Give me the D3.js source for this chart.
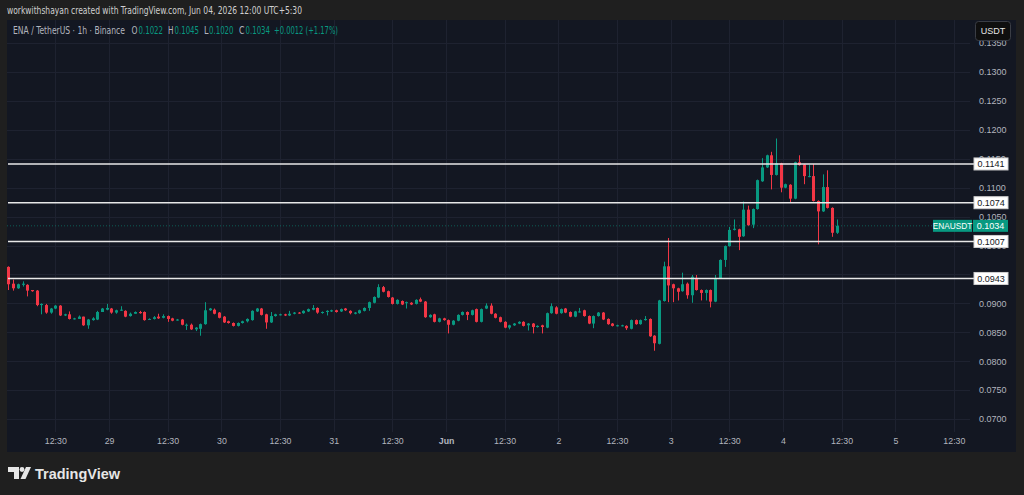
<!DOCTYPE html>
<html>
<head>
<meta charset="utf-8">
<script src="https://cdn.jsdelivr.net/npm/d3@7"></script>
<style>
  html, body { margin: 0; padding: 0; background: #1f1f1f; }
  svg { display: block; font-family: "Liberation Sans", Arial, sans-serif; }
</style>
</head>
<body>
<svg id="chart" width="1024" height="495"></svg>
<script>
// ENA / TetherUS 1h candles, first one at May 28 02:30 (UTC+5:30)
const open = [
  0.0963,0.0934,0.0926,0.0932,0.0932,0.0923,0.0922,0.0897,0.0897,0.0884,
  0.0891,0.0896,0.0879,0.0881,0.0873,0.0873,0.0877,0.0862,0.0871,0.0872,
  0.0885,0.0889,0.0891,0.0884,0.0888,0.0887,0.0878,0.0882,0.0885,0.0885,
  0.0872,0.0873,0.0877,0.0875,0.0878,0.0874,0.0871,0.0872,0.0862,0.0863,
  0.0855,0.0856,0.0864,0.0888,0.0889,0.0884,0.0877,0.0869,0.0866,0.0861,
  0.0866,0.0869,0.0871,0.0886,0.0891,0.0881,0.0867,0.0878,0.0880,0.0881,
  0.0879,0.0882,0.0884,0.0883,0.0886,0.0889,0.0892,0.0884,0.0885,0.0886,
  0.0888,0.0886,0.0891,0.0887,0.0882,0.0883,0.0887,0.0892,0.0901,0.0910,
  0.0928,0.0921,0.0910,0.0899,0.0904,0.0901,0.0901,0.0899,0.0907,0.0903,
  0.0876,0.0881,0.0868,0.0874,0.0871,0.0863,0.0870,0.0880,0.0885,0.0880,
  0.0890,0.0868,0.0891,0.0896,0.0882,0.0876,0.0868,0.0858,0.0862,0.0865,
  0.0868,0.0862,0.0865,0.0859,0.0862,0.0858,0.0883,0.0893,0.0883,0.0891,
  0.0885,0.0877,0.0885,0.0888,0.0878,0.0865,0.0878,0.0884,0.0873,0.0865,
  0.0861,0.0861,0.0861,0.0856,0.0871,0.0864,0.0871,0.0873,0.0844,0.0830,
  0.0904,0.0964,0.0933,0.0926,0.0921,0.0934,0.0914,0.0944,0.0923,0.0918,
  0.0923,0.0903,0.0943,0.0975,0.0999,0.1027,0.1028,0.1016,0.1062,0.1036,
  0.1063,0.1111,0.1135,0.1156,0.1122,0.1142,0.1100,0.1105,0.1081,0.1144,
  0.1140,0.1119,0.1120,0.1077,0.1059,0.1101,0.1065,0.1022
]
const high = [
  0.0964,0.0941,0.0934,0.0938,0.0933,0.0923,0.0923,0.0900,0.0899,0.0892,
  0.0897,0.0897,0.0882,0.0886,0.0875,0.0879,0.0877,0.0873,0.0876,0.0887,
  0.0892,0.0899,0.0892,0.0889,0.0895,0.0888,0.0884,0.0886,0.0887,0.0886,
  0.0874,0.0878,0.0882,0.0881,0.0879,0.0875,0.0873,0.0873,0.0865,0.0865,
  0.0859,0.0865,0.0902,0.0892,0.0891,0.0885,0.0878,0.0870,0.0867,0.0867,
  0.0870,0.0874,0.0888,0.0892,0.0892,0.0882,0.0885,0.0882,0.0882,0.0882,
  0.0887,0.0885,0.0885,0.0888,0.0891,0.0897,0.0893,0.0886,0.0888,0.0889,
  0.0889,0.0891,0.0892,0.0888,0.0885,0.0889,0.0893,0.0903,0.0912,0.0933,
  0.0930,0.0922,0.0911,0.0907,0.0905,0.0903,0.0902,0.0907,0.0910,0.0904,
  0.0881,0.0882,0.0875,0.0875,0.0872,0.0871,0.0881,0.0886,0.0886,0.0889,
  0.0891,0.0891,0.0900,0.0900,0.0883,0.0877,0.0869,0.0863,0.0866,0.0869,
  0.0869,0.0866,0.0866,0.0862,0.0863,0.0884,0.0900,0.0895,0.0891,0.0892,
  0.0886,0.0887,0.0892,0.0889,0.0879,0.0879,0.0885,0.0885,0.0874,0.0866,
  0.0863,0.0863,0.0862,0.0872,0.0872,0.0872,0.0878,0.0874,0.0845,0.0906,
  0.0972,0.1013,0.0934,0.0927,0.0953,0.0936,0.0949,0.0949,0.0924,0.0924,
  0.0924,0.0949,0.0976,0.1000,0.1032,0.1045,0.1029,0.1076,0.1069,0.1064,
  0.1114,0.1151,0.1157,0.1162,0.1185,0.1143,0.1107,0.1106,0.1145,0.1156,
  0.1141,0.1139,0.1141,0.1078,0.1123,0.1130,0.1066,0.1045
]
const low = [
  0.0923,0.0922,0.0925,0.0929,0.0912,0.0920,0.0895,0.0881,0.0882,0.0882,
  0.0890,0.0878,0.0878,0.0872,0.0872,0.0873,0.0861,0.0856,0.0870,0.0871,
  0.0885,0.0888,0.0882,0.0882,0.0887,0.0876,0.0877,0.0882,0.0882,0.0870,
  0.0872,0.0872,0.0873,0.0874,0.0868,0.0869,0.0870,0.0862,0.0854,0.0854,
  0.0852,0.0844,0.0863,0.0887,0.0881,0.0874,0.0866,0.0865,0.0860,0.0860,
  0.0865,0.0867,0.0870,0.0885,0.0879,0.0856,0.0866,0.0877,0.0879,0.0878,
  0.0878,0.0881,0.0882,0.0882,0.0885,0.0888,0.0882,0.0882,0.0879,0.0885,
  0.0884,0.0885,0.0887,0.0881,0.0881,0.0882,0.0886,0.0887,0.0900,0.0909,
  0.0919,0.0910,0.0898,0.0898,0.0897,0.0891,0.0897,0.0898,0.0902,0.0875,
  0.0875,0.0867,0.0867,0.0870,0.0848,0.0862,0.0869,0.0879,0.0871,0.0879,
  0.0867,0.0867,0.0890,0.0881,0.0874,0.0867,0.0857,0.0855,0.0861,0.0864,
  0.0860,0.0853,0.0848,0.0858,0.0848,0.0857,0.0882,0.0881,0.0882,0.0883,
  0.0876,0.0876,0.0884,0.0877,0.0864,0.0857,0.0877,0.0871,0.0863,0.0860,
  0.0860,0.0860,0.0854,0.0855,0.0863,0.0863,0.0870,0.0842,0.0818,0.0829,
  0.0903,0.0902,0.0902,0.0905,0.0920,0.0908,0.0901,0.0922,0.0905,0.0905,
  0.0893,0.0902,0.0942,0.0963,0.0998,0.1026,0.0992,0.1015,0.1034,0.1030,
  0.1062,0.1110,0.1134,0.1097,0.1121,0.1092,0.1099,0.1074,0.1080,0.1138,
  0.1106,0.1118,0.1076,0.1002,0.1058,0.1064,0.1015,0.1020
]
const close = [
  0.0933,0.0926,0.0933,0.0934,0.0922,0.0921,0.0897,0.0899,0.0884,0.0891,
  0.0896,0.0879,0.0881,0.0873,0.0874,0.0877,0.0862,0.0872,0.0874,0.0885,
  0.0891,0.0892,0.0884,0.0888,0.0889,0.0877,0.0882,0.0885,0.0883,0.0871,
  0.0873,0.0876,0.0874,0.0878,0.0873,0.0870,0.0872,0.0863,0.0863,0.0855,
  0.0858,0.0864,0.0888,0.0891,0.0882,0.0875,0.0867,0.0866,0.0861,0.0866,
  0.0869,0.0873,0.0887,0.0891,0.0880,0.0867,0.0878,0.0881,0.0881,0.0879,
  0.0882,0.0884,0.0883,0.0887,0.0890,0.0892,0.0884,0.0885,0.0887,0.0888,
  0.0885,0.0890,0.0888,0.0883,0.0884,0.0888,0.0892,0.0902,0.0911,0.0928,
  0.0920,0.0911,0.0899,0.0906,0.0898,0.0902,0.0898,0.0906,0.0903,0.0876,
  0.0880,0.0868,0.0874,0.0871,0.0863,0.0870,0.0880,0.0885,0.0880,0.0888,
  0.0868,0.0890,0.0896,0.0882,0.0875,0.0868,0.0858,0.0862,0.0865,0.0868,
  0.0861,0.0865,0.0859,0.0861,0.0859,0.0883,0.0895,0.0882,0.0890,0.0884,
  0.0877,0.0886,0.0886,0.0878,0.0865,0.0878,0.0884,0.0872,0.0864,0.0861,
  0.0862,0.0862,0.0857,0.0871,0.0864,0.0871,0.0873,0.0843,0.0831,0.0905,
  0.0964,0.0931,0.0926,0.0920,0.0933,0.0914,0.0946,0.0923,0.0918,0.0923,
  0.0903,0.0943,0.0975,0.0999,0.1027,0.1029,0.1015,0.1062,0.1035,0.1063,
  0.1113,0.1135,0.1156,0.1122,0.1142,0.1100,0.1106,0.1081,0.1144,0.1139,
  0.1120,0.1120,0.1077,0.1059,0.1101,0.1065,0.1022,0.1034
]

// horizontal levels drawn on the chart
const levels = [0.1141, 0.1074, 0.1007, 0.0943]
const lastPrice = 0.1034

const priceTicks = [0.0700, 0.0750, 0.0800, 0.0850, 0.0900, 0.0950, 0.1000,
  0.1050, 0.1100, 0.1150, 0.1200, 0.1250, 0.1300, 0.1350]

const timeTickDates = [
  '2026-05-28 12:30', '2026-05-29 00:00', '2026-05-29 12:30', '2026-05-30 00:00',
  '2026-05-30 12:30', '2026-05-31 00:00', '2026-05-31 12:30', '2026-06-01 00:00',
  '2026-06-01 12:30', '2026-06-02 00:00', '2026-06-02 12:30', '2026-06-03 00:00',
  '2026-06-03 12:30', '2026-06-04 00:00', '2026-06-04 12:30', '2026-06-05 00:00',
  '2026-06-05 12:30'
]
const timeTickLabels = ['12:30', '29', '12:30', '30', '12:30', '31', '12:30', 'Jun',
  '12:30', '2', '12:30', '3', '12:30', '4', '12:30', '5', '12:30']

const up = '#089981'
const down = '#f23645'
const bg = '#131722'
const font = '"Liberation Sans", Arial, sans-serif'
const narrow = '"Liberation Sans Narrow", "DejaVu Sans Condensed", "Liberation Sans", sans-serif'

const parse = d3.utcParse('%Y-%m-%d %H:%M')
const firstCandle = parse('2026-05-28 02:30')

const candles = close.map((c, i) => ({
  t: d3.utcHour.offset(firstCandle, i),
  o: open[i], h: high[i], l: low[i], c
}))

const svg = d3.select('#chart')

const panel = { left: 7, top: 20, right: 1016, bottom: 452 }
const plot = { left: 7, right: 970, top: 20, bottom: 432 }

svg.append('rect')
  .attr('x', panel.left)
  .attr('y', panel.top)
  .attr('width', panel.right - panel.left)
  .attr('height', panel.bottom - panel.top)
  .attr('fill', bg)

// 4.68 px per hourly candle
const x = d3.scaleUtc()
  .domain([d3.utcMinute.offset(firstCandle, -19), d3.utcMinute.offset(firstCandle, 205 * 60 + 27)])
  .range([plot.left, plot.right])

const y = d3.scaleLinear()
  .domain([0.07, 0.13])
  .range([419, 72])

// grid
const grid = svg.append('g')
grid.selectAll('.hgrid')
  .data(priceTicks)
  .enter().append('line')
    .attr('x1', plot.left)
    .attr('x2', plot.right)
    .attr('y1', d => Math.round(y(d)) + 0.5)
    .attr('y2', d => Math.round(y(d)) + 0.5)
    .attr('stroke', '#1e2230')

const tickTimes = timeTickDates.map(parse)
grid.selectAll('.vgrid')
  .data(tickTimes)
  .enter().append('line')
    .attr('x1', d => Math.round(x(d)) + 0.5)
    .attr('x2', d => Math.round(x(d)) + 0.5)
    .attr('y1', plot.top)
    .attr('y2', plot.bottom)
    .attr('stroke', '#1e2230')

// candles
const chartArea = svg.append('g')
const candle = chartArea.selectAll('g.candle')
  .data(candles)
  .enter().append('g')

candle.append('line')
  .attr('x1', d => Math.round(x(d.t)) + 0.5)
  .attr('x2', d => Math.round(x(d.t)) + 0.5)
  .attr('y1', d => y(d.h))
  .attr('y2', d => y(d.l))
  .attr('stroke', d => d.c >= d.o ? up : down)

candle.append('rect')
  .attr('x', d => Math.round(x(d.t)) - 1)
  .attr('width', 3)
  .attr('y', d => y(Math.max(d.o, d.c)))
  .attr('height', d => Math.max(1, Math.abs(y(d.o) - y(d.c))))
  .attr('fill', d => d.c >= d.o ? up : down)

// last price dotted line
svg.append('line')
  .attr('x1', plot.left)
  .attr('x2', 932)
  .attr('y1', y(lastPrice))
  .attr('y2', y(lastPrice))
  .attr('stroke', up)
  .attr('stroke-opacity', 0.55)
  .attr('stroke-dasharray', '1,2')

// level lines
svg.selectAll('.level')
  .data(levels)
  .enter().append('line')
    .attr('x1', plot.left + 1)
    .attr('x2', 974)
    .attr('y1', d => y(d))
    .attr('y2', d => y(d))
    .attr('stroke', '#e8e8e8')
    .attr('stroke-width', 1.6)

// price axis
const yAxis = d3.axisRight(y)
  .tickValues(priceTicks)
  .tickFormat(d3.format('.4f'))
  .tickSize(0)
  .tickPadding(0)

const yAxisGroup = svg.append('g')
  .attr('transform', 'translate(979, 0)')
  .call(yAxis)
yAxisGroup.select('.domain').remove()
yAxisGroup.selectAll('text')
  .attr('fill', '#b2b5be')
  .attr('font-size', 9)
  .attr('font-family', font)

// time axis
const xAxis = d3.axisBottom(x)
  .tickValues(tickTimes)
  .tickFormat((d, i) => timeTickLabels[i])
  .tickSize(0)
  .tickPadding(0)

const xAxisGroup = svg.append('g')
  .attr('transform', 'translate(0, 438)')
  .call(xAxis)
xAxisGroup.select('.domain').remove()
xAxisGroup.selectAll('text')
  .attr('fill', '#b2b5be')
  .attr('font-size', 8.8)
  .attr('font-family', font)
  .attr('font-weight', (d, i) => timeTickLabels[i] === 'Jun' ? 'bold' : 'normal')

// level labels on the axis
const levelTag = svg.selectAll('.levelTag')
  .data(levels)
  .enter().append('g')
    .attr('transform', d => `translate(974, ${y(d)})`)
levelTag.append('rect')
  .attr('x', 0).attr('y', -6)
  .attr('width', 34).attr('height', 12)
  .attr('fill', '#ffffff')
  .attr('stroke', '#d0d0d0')
levelTag.append('text')
  .attr('x', 17).attr('y', 3.2)
  .attr('text-anchor', 'middle')
  .attr('font-size', 9)
  .attr('fill', '#131722')
  .text(d => d3.format('.4f')(d))

// last price tag
const priceTag = svg.append('g')
  .attr('transform', `translate(0, ${y(lastPrice)})`)
priceTag.append('rect')
  .attr('x', 933).attr('y', -6).attr('width', 39).attr('height', 12)
  .attr('fill', up)
priceTag.append('text')
  .attr('x', 952.5).attr('y', 3)
  .attr('text-anchor', 'middle')
  .attr('font-size', 8.3)
  .attr('fill', '#ffffff')
  .text('ENAUSDT')
priceTag.append('rect')
  .attr('x', 973).attr('y', -6).attr('width', 35).attr('height', 12)
  .attr('fill', up)
priceTag.append('text')
  .attr('x', 990.5).attr('y', 3.2)
  .attr('text-anchor', 'middle')
  .attr('font-size', 9)
  .attr('fill', '#ffffff')
  .text(d3.format('.4f')(lastPrice))

// currency box
svg.append('rect')
  .attr('x', 975.5).attr('y', 21.5)
  .attr('width', 35).attr('height', 19)
  .attr('rx', 3)
  .attr('fill', '#0f0f0f')
  .attr('stroke', '#3a3d45')
svg.append('text')
  .attr('x', 993).attr('y', 34)
  .attr('text-anchor', 'middle')
  .attr('font-size', 9)
  .attr('fill', '#e6e6e6')
  .text('USDT')

// header
svg.append('text')
  .attr('x', 7).attr('y', 14)
  .attr('font-size', 10.4)
  .attr('font-family', narrow)
  .attr('fill', '#cfcfcf')
  .attr('textLength', 295)
  .attr('lengthAdjust', 'spacingAndGlyphs')
  .text('workwithshayan created with TradingView.com, Jun 04, 2026 12:00 UTC+5:30')

// legend line
const legendParts = [
  { text: 'ENA / TetherUS · 1h · Binance', x: 13, w: 112, fill: '#b2b5be' },
  { text: 'O', x: 131.5, w: 6, fill: '#b2b5be' },
  { text: '0.1022', x: 138.5, w: 24.5, fill: up },
  { text: 'H', x: 168, w: 5.5, fill: '#b2b5be' },
  { text: '0.1045', x: 174.5, w: 24.5, fill: up },
  { text: 'L', x: 204, w: 4.5, fill: '#b2b5be' },
  { text: '0.1020', x: 209, w: 24.5, fill: up },
  { text: 'C', x: 239, w: 5.5, fill: '#b2b5be' },
  { text: '0.1034', x: 245.5, w: 24.5, fill: up },
  { text: '+0.0012 (+1.17%)', x: 274, w: 64, fill: up }
]
svg.append('g').selectAll('text')
  .data(legendParts)
  .enter().append('text')
    .attr('x', d => d.x)
    .attr('y', 34)
    .attr('font-size', 9.8)
    .attr('font-family', narrow)
    .attr('fill', d => d.fill)
    .attr('textLength', d => d.w)
    .attr('lengthAdjust', 'spacingAndGlyphs')
    .text(d => d.text)

// TradingView logo
const logo = svg.append('g').attr('fill', '#e6e6e6')
logo.append('path').attr('d', 'M8 467h11v12h-5v-7h-6z')
logo.append('circle').attr('cx', 22).attr('cy', 469.5).attr('r', 2.4)
logo.append('path').attr('d', 'M26 467h5l-5.5 12h-5z')
svg.append('text')
  .attr('x', 35).attr('y', 479)
  .attr('font-size', 15)
  .attr('font-weight', 'bold')
  .attr('fill', '#e6e6e6')
  .attr('textLength', 85)
  .attr('lengthAdjust', 'spacingAndGlyphs')
  .text('TradingView')
</script>
</body>
</html>
